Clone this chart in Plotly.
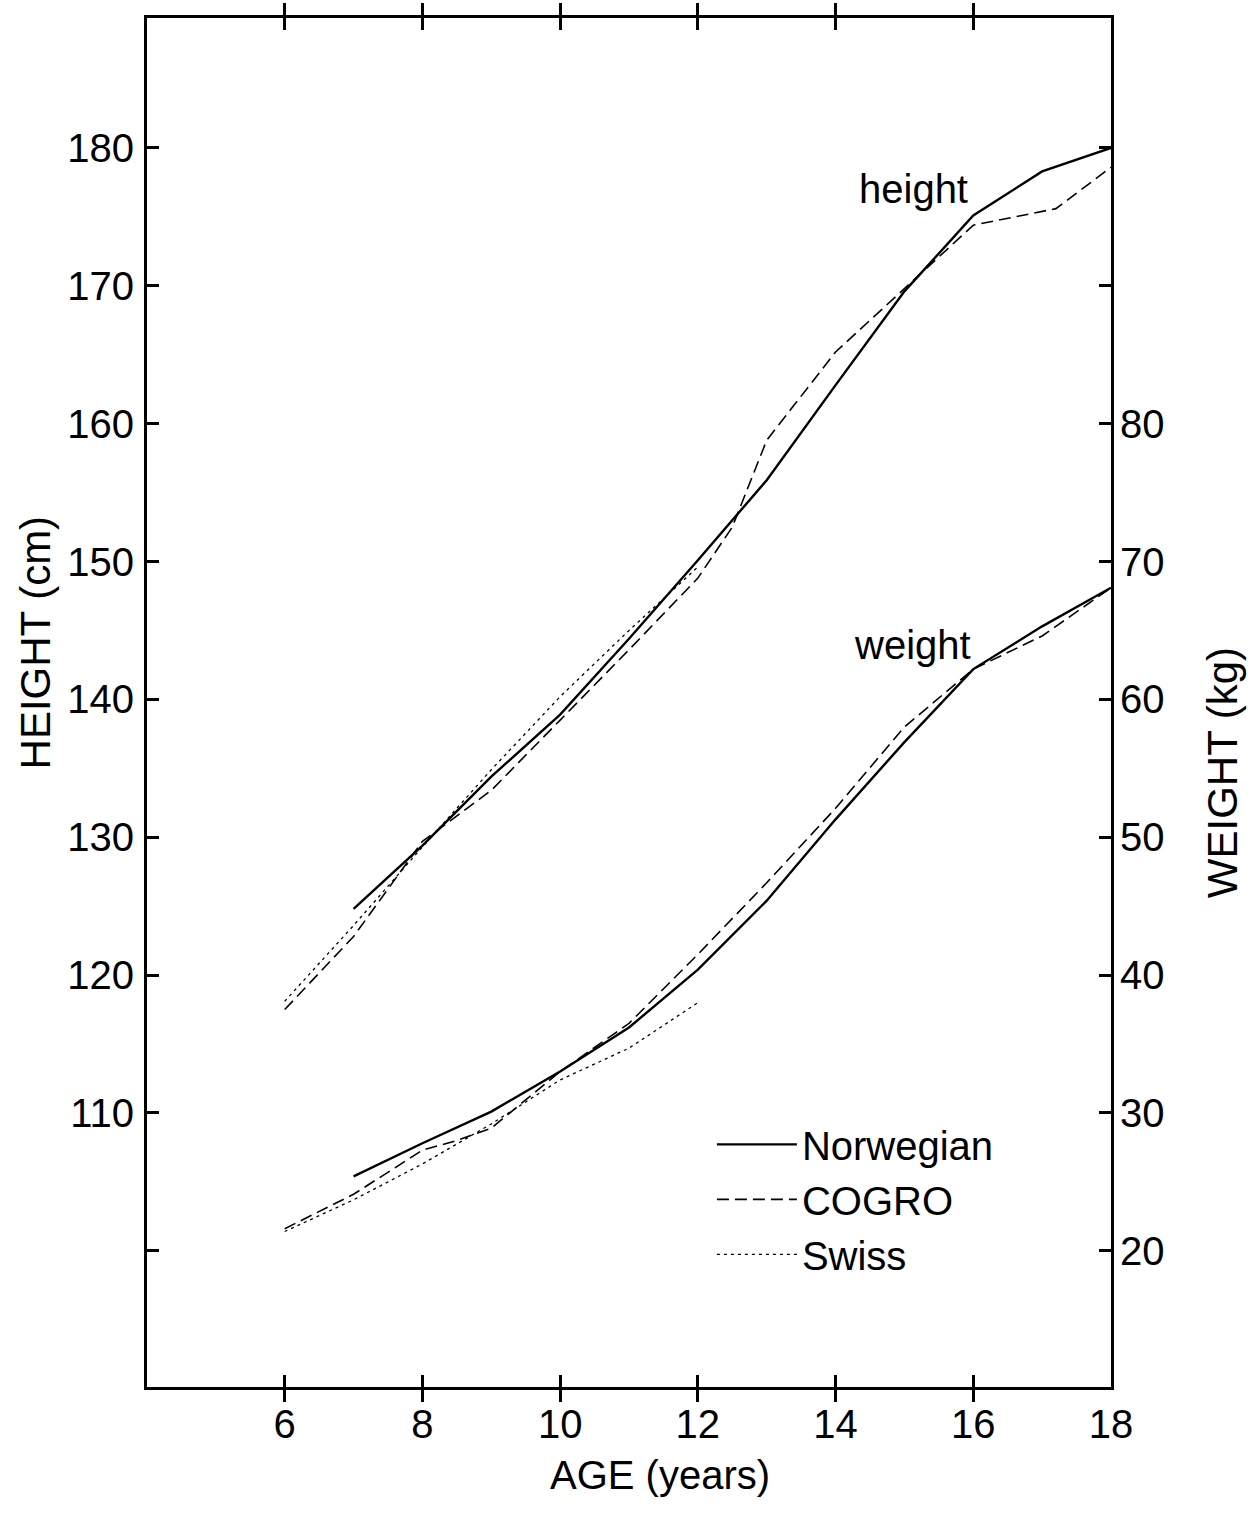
import plotly.graph_objects as go

# ---------------- data ----------------
age_nor_h = [7, 8, 9, 10, 11, 12, 13, 14, 15, 16, 17, 18]
nor_height = [124.8, 129.4, 134.4, 138.9, 144.4, 150.1, 155.9, 162.8, 169.6, 175.1, 178.3, 180.0]

age_cog_h = [6, 7, 8, 9, 10, 11, 12, 12.5, 13, 14, 15, 16, 17.2, 18]
cog_height = [117.5, 122.8, 129.7, 133.4, 138.5, 143.6, 148.8, 152.5, 158.8, 165.2, 169.8, 174.4, 175.6, 178.6]

age_swi_h = [6, 7, 8, 9, 10, 11, 12]
swi_height = [118.1, 123.6, 129.3, 134.9, 140.2, 145.0, 149.6]

age_nor_w = [7, 8, 9, 10, 11, 12, 13, 14, 15, 16, 17, 18]
nor_weight = [25.4, 27.8, 30.1, 33.0, 36.2, 40.4, 45.4, 51.3, 56.9, 62.2, 65.3, 68.1]

age_cog_w = [6, 7, 8, 8.5, 9, 10, 11, 12, 13, 14, 15, 16, 17, 18]
cog_weight = [21.6, 24.1, 27.3, 28.0, 28.9, 33.0, 36.5, 41.5, 46.7, 52.1, 58.0, 62.2, 64.6, 68.1]

age_swi_w = [6, 7, 8, 9, 10, 11, 12]
swi_weight = [21.4, 23.7, 26.3, 29.2, 32.4, 34.7, 38.0]

x_ticks = [6, 8, 10, 12, 14, 16, 18]
h_ticks = [100, 110, 120, 130, 140, 150, 160, 170, 180]
h_labels = ["", "110", "120", "130", "140", "150", "160", "170", "180"]
w_ticks = [20, 30, 40, 50, 60, 70, 80]

series_names = ["Norwegian", "COGRO", "Swiss"]

# ---------------- styles ----------------
FONT = "Liberation Sans"
styles = {
    "Norwegian": dict(color="black", width=2.4, dash="solid"),
    "COGRO": dict(color="black", width=1.6, dash="12px,6px"),
    "Swiss": dict(color="black", width=1.3, dash="3px,4px"),
}

fig = go.Figure()

height_data = {
    "Norwegian": (age_nor_h, nor_height),
    "COGRO": (age_cog_h, cog_height),
    "Swiss": (age_swi_h, swi_height),
}
weight_data = {
    "Norwegian": (age_nor_w, nor_weight),
    "COGRO": (age_cog_w, cog_weight),
    "Swiss": (age_swi_w, swi_weight),
}

for name in series_names:
    xs, ys = height_data[name]
    fig.add_trace(go.Scatter(x=xs, y=ys, mode="lines", name=name,
                             line=styles[name], showlegend=True,
                             yaxis="y"))
for name in series_names:
    xs, ys = weight_data[name]
    fig.add_trace(go.Scatter(x=xs, y=ys, mode="lines", name=name,
                             line=styles[name], showlegend=False,
                             yaxis="y2"))

axis_common = dict(showgrid=False, zeroline=False, showline=True,
                   linecolor="black", linewidth=3, ticks="inside",
                   ticklen=12, tickwidth=2.5, tickcolor="black",
                   tickfont=dict(family=FONT, size=40, color="black"))

fig.update_layout(
    width=1254, height=1530,
    margin=dict(l=147, r=143, t=18, b=143),
    paper_bgcolor="white", plot_bgcolor="white",
    font=dict(family=FONT, size=40, color="black"),
    xaxis=dict(range=[4, 18], tickvals=x_ticks, mirror="allticks",
               ticklabelstandoff=0, **axis_common),
    yaxis=dict(range=[90.12, 189.43], tickvals=h_ticks, ticktext=h_labels,
               mirror="allticks", ticklabelstandoff=2, **axis_common),
    yaxis2=dict(range=[10.12, 109.43], tickvals=w_ticks, overlaying="y",
                side="right", showgrid=False, zeroline=False, showline=False,
                ticks="", ticklabelstandoff=8,
                tickfont=dict(family=FONT, size=40, color="black")),
    legend=dict(x=0.586, y=0.201, xanchor="left", yanchor="top",
                bgcolor="rgba(0,0,0,0)", itemwidth=80,
                font=dict(family=FONT, size=40, color="black"),
                tracegroupgap=0),
    annotations=[
        dict(text="height", x=15.13, y=177.0, xref="x", yref="y",
             showarrow=False, font=dict(family=FONT, size=40)),
        dict(text="weight", x=15.12, y=143.95, xref="x", yref="y",
             showarrow=False, font=dict(family=FONT, size=40)),
        dict(text="AGE (years)", x=0.532, y=-0.064, xref="paper", yref="paper",
             xanchor="center", yanchor="middle",
             showarrow=False, font=dict(family=FONT, size=40)),
        dict(text="HEIGHT (cm)", x=-0.116, y=0.544, xref="paper", yref="paper",
             xanchor="center", yanchor="middle",
             showarrow=False, textangle=-90, font=dict(family=FONT, size=42)),
        dict(text="WEIGHT (kg)", x=1.115, y=0.449, xref="paper", yref="paper",
             xanchor="center", yanchor="middle",
             showarrow=False, textangle=-90, font=dict(family=FONT, size=42)),
    ],
)

fig.write_html("out.html")
